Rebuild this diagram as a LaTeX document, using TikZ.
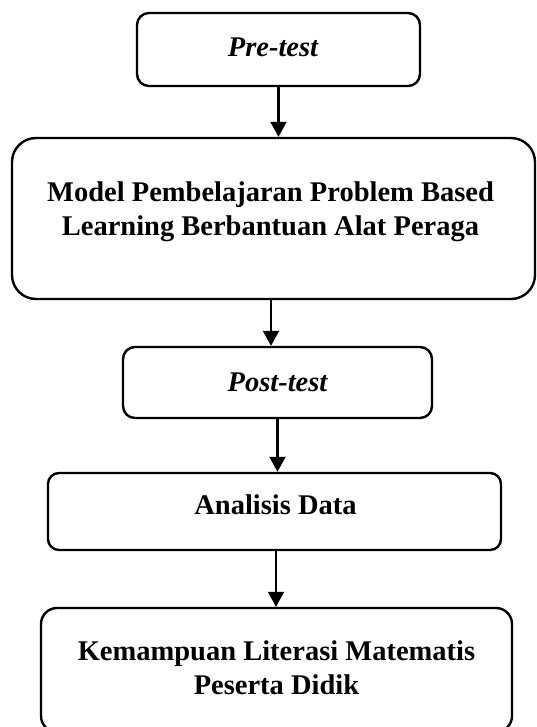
\documentclass[tikz,border=0pt]{standalone}
\usepackage{fontspec}
\setmainfont{Liberation Serif}
\usetikzlibrary{arrows.meta}
\begin{document}
\begin{tikzpicture}[x=1pt,y=-1pt,
  box/.style={draw, line width=2.4pt, inner sep=0pt},
  lbl/.style={font=\fontsize{28.5}{34}\selectfont\bfseries, align=center, inner sep=0pt},
  arr/.style={line width=2.2pt, -{Triangle[length=15pt,width=16pt]}}]
\useasboundingbox (0,0) rectangle (536,727);

% boxes
\node[box, rounded corners=12pt, minimum width=283pt, minimum height=73pt] (pre) at (278.5,49.5) {};
\node[box, rounded corners=24pt, minimum width=523pt, minimum height=161pt] (model) at (273.5,218.5) {};
\node[box, rounded corners=12pt, minimum width=309pt, minimum height=71pt] (post) at (277.5,382.5) {};
\node[box, rounded corners=11pt, minimum width=453pt, minimum height=77pt] (data) at (274.5,511.5) {};
\node[box, rounded corners=16pt, minimum width=471pt, minimum height=124pt] (hasil) at (276.5,670) {};

% texts
\node[lbl] (pretxt) at (273,47) {\itshape Pre-test};
\node[lbl] (modeltxt) at (270.5,212) {Model Pembelajaran Problem Based\\Learning Berbantuan Alat Peraga};
\node[lbl] (posttxt) at (277.5,382) {\itshape Post-test};
\node[lbl] (datatxt) at (275.5,505) {Analisis Data};
\node[lbl] (hasiltxt) at (276.5,668) {Kemampuan Literasi Matematis\\Peserta Didik};

% connectors
\draw[arr] (pre.south) -- (pre.south |- model.north);
\draw[arr] ([xshift=-2.5pt]model.south) -- ([xshift=-2.5pt]model.south |- post.north);
\draw[arr] (post.south) -- (post.south |- data.north);
\draw[arr] ([xshift=1.5pt]data.south) -- ([xshift=1.5pt]data.south |- hasil.north);
\end{tikzpicture}
\end{document}
